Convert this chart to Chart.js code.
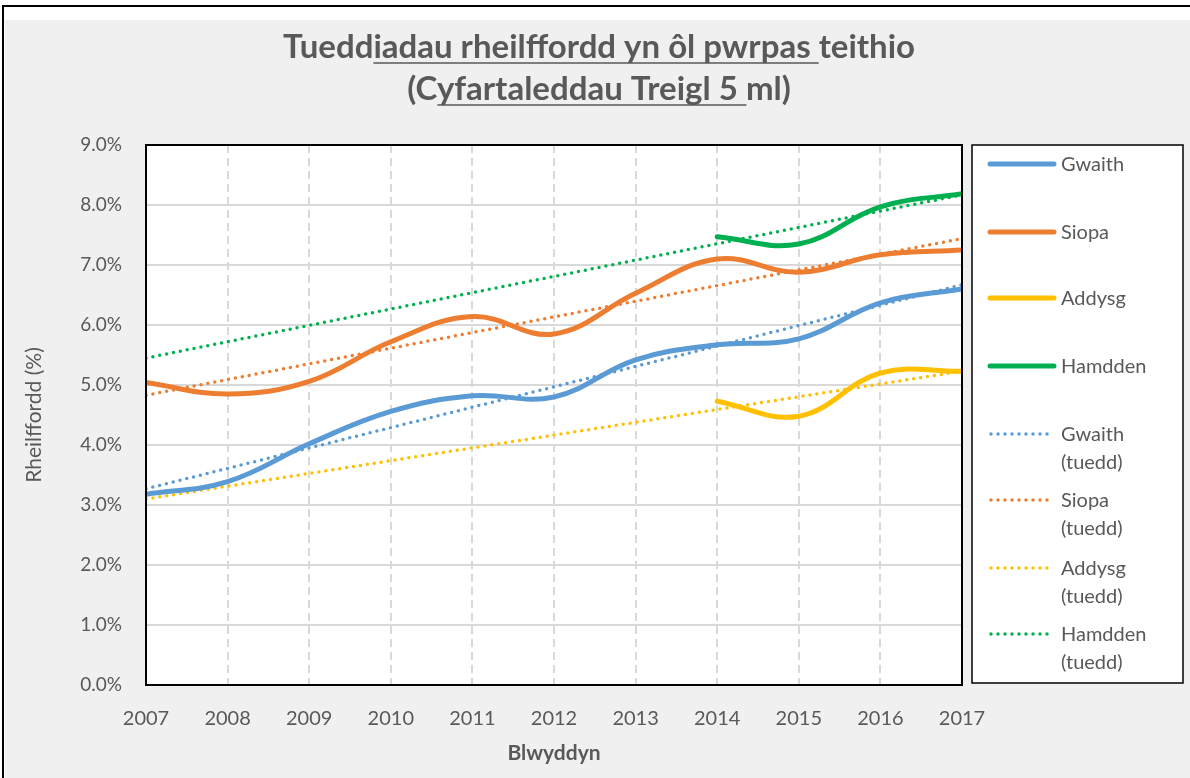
<!DOCTYPE html>
<html>
<head>
<meta charset="utf-8">
<script src="https://cdn.jsdelivr.net/npm/chart.js@4.4.1/dist/chart.umd.min.js"></script>
<style>
  html, body { margin: 0; padding: 0; background: #ffffff; }
  #wrap { width: 1190px; height: 778px; }
</style>
</head>
<body>
<div id="wrap"><canvas id="rail-chart" width="1190" height="778"></canvas></div>
<script>
const years = [2007, 2008, 2009, 2010, 2011, 2012, 2013, 2014, 2015, 2016, 2017];
const gwaith = [3.18, 3.39, 4.02, 4.56, 4.82, 4.80, 5.42, 5.67, 5.77, 6.37, 6.60];
const siopa = [5.04, 4.85, 5.06, 5.72, 6.14, 5.85, 6.53, 7.10, 6.88, 7.17, 7.25];
const addysg = [null, null, null, null, null, null, null, 4.73, 4.48, 5.20, 5.23];
const hamdden = [null, null, null, null, null, null, null, 7.47, 7.35, 7.97, 8.19];

// trend lines, read at both ends
const trendYears = [2007, 2017];
const gwaithTrend = [3.27, 6.67];
const siopaTrend = [4.83, 7.44];
const addysgTrend = [3.10, 5.23];
const hamddenTrend = [5.45, 8.17];

const seriesNames = ["Gwaith", "Siopa", "Addysg", "Hamdden"];
const yTicks = [0, 1, 2, 3, 4, 5, 6, 7, 8, 9];

const colors = ["#5B9BD5", "#ED7D31", "#FFC000", "#00B050"];
const textGray = "#595959";
const FONT = "Lato, 'Open Sans', sans-serif";

// turn x/y arrays into points, skipping blanks
const toPoints = (xs, ys) => {
  const pts = [];
  for (let i = 0; i < xs.length; i++) {
    if (ys[i] !== null) pts.push({ x: xs[i], y: ys[i] });
  }
  return pts;
};

const mainSeries = [gwaith, siopa, addysg, hamdden];
const trendSeries = [gwaithTrend, siopaTrend, addysgTrend, hamddenTrend];

const datasets = [];
mainSeries.forEach((vals, i) => {
  datasets.push({
    label: seriesNames[i],
    data: toPoints(years, vals),
    borderColor: colors[i],
    borderWidth: 5,
    tension: 0.4,
    pointRadius: 0,
    fill: false,
    borderCapStyle: "round",
  });
});
trendSeries.forEach((vals, i) => {
  datasets.push({
    label: seriesNames[i] + "\n(tuedd)",
    data: toPoints(trendYears, vals),
    borderColor: colors[i],
    borderWidth: 3.5,
    borderDash: [0, 7],
    borderCapStyle: "round",
    pointRadius: 0,
    fill: false,
    trend: true,
  });
});

// background, frame, title, plot border and legend
const decorPlugin = {
  id: "decor",
  beforeDraw(chart) {
    const ctx = chart.ctx;
    ctx.save();
    ctx.fillStyle = "#ffffff";
    ctx.fillRect(0, 0, chart.width, chart.height);
    ctx.fillStyle = "#f0f0f0";
    ctx.fillRect(5, 20, chart.width - 5, chart.height - 20);
    ctx.fillStyle = "#000000";
    ctx.fillRect(2, 5, chart.width - 2, 2);
    ctx.fillRect(2, 5, 2, chart.height - 5);
    const a = chart.chartArea;
    ctx.fillStyle = "#ffffff";
    ctx.fillRect(a.left, a.top, a.right - a.left, a.bottom - a.top);
    ctx.restore();
  },
  afterDraw(chart) {
    const ctx = chart.ctx;
    const a = chart.chartArea;
    ctx.save();
    ctx.strokeStyle = "#000000";
    ctx.lineWidth = 2;
    ctx.strokeRect(a.left, a.top, a.right - a.left, a.bottom - a.top);

    // title with its odd partial underline
    ctx.fillStyle = textGray;
    ctx.strokeStyle = textGray;
    ctx.font = "bold 33px " + FONT;
    ctx.textBaseline = "alphabetic";
    const titleLines = [
      ["Tuedd", "iadau rheilffordd yn ôl pwrpas ", "teithio"],
      ["(C", "yfartaleddau Treigl 5 ", "ml)"],
    ];
    const baselines = [58, 100];
    titleLines.forEach((parts, i) => {
      const full = parts.join("");
      const w = ctx.measureText(full).width;
      const x0 = chart.width / 2 + 4 - w / 2;
      ctx.textAlign = "left";
      ctx.fillText(full, x0, baselines[i]);
      const u0 = x0 + ctx.measureText(parts[0]).width;
      const u1 = u0 + ctx.measureText(parts[1]).width;
      ctx.lineWidth = 1.5;
      ctx.beginPath();
      ctx.moveTo(u0, baselines[i] + 5);
      ctx.lineTo(u1, baselines[i] + 5);
      ctx.stroke();
    });

    // legend box
    const lx = 972, ly = 145, lw = 211, lh = 538;
    ctx.fillStyle = "#ffffff";
    ctx.fillRect(lx, ly, lw, lh);
    ctx.strokeStyle = "#000000";
    ctx.lineWidth = 1.5;
    ctx.strokeRect(lx, ly, lw, lh);
    const rowY = [164, 232, 298, 366, 434, 500, 568, 634];
    ctx.font = "20px " + FONT;
    ctx.textAlign = "left";
    ctx.textBaseline = "middle";
    chart.data.datasets.forEach((ds, i) => {
      const y = rowY[i];
      ctx.strokeStyle = ds.borderColor;
      ctx.lineWidth = ds.borderWidth;
      ctx.lineCap = "round";
      ctx.setLineDash(ds.borderDash || []);
      ctx.beginPath();
      ctx.moveTo(ds.trend ? 991 : 990, y);
      ctx.lineTo(1054, y);
      ctx.stroke();
      ctx.setLineDash([]);
      ctx.fillStyle = textGray;
      ds.label.split("\n").forEach((t, k) => {
        ctx.fillText(t, 1061, y + 1 + k * 28);
      });
    });
    ctx.restore();
  },
};

const options = {
  responsive: false,
  animation: false,
  layout: {
    padding: { top: 145, left: 0, right: 228, bottom: 0 },
  },
  scales: {
    x: {
      type: "linear",
      min: 2007,
      max: 2017,
      afterFit: (scale) => {
        scale.height = 93;
      },
      ticks: {
        stepSize: 1,
        padding: 22,
        color: textGray,
        font: { family: FONT, size: 20 },
        callback: (v) => String(v),
      },
      grid: {
        color: "#d9d9d9",
        lineWidth: 2,
        drawTicks: false,
      },
      border: { display: false, dash: [8, 5] },
      title: {
        display: true,
        text: "Blwyddyn",
        color: textGray,
        font: { family: FONT, size: 21, weight: "bold" },
        padding: { top: 4, bottom: 12 },
      },
    },
    y: {
      min: 0,
      max: 9,
      afterFit: (scale) => {
        scale.width = 146;
      },
      afterBuildTicks: (scale) => {
        scale.ticks = yTicks.map((v) => ({ value: v }));
      },
      ticks: {
        padding: 24,
        color: textGray,
        font: { family: FONT, size: 19 },
        callback: (v) => v.toFixed(1) + "%",
      },
      grid: {
        color: "#d9d9d9",
        lineWidth: 2,
        drawTicks: false,
      },
      border: { display: false },
      title: {
        display: true,
        text: "Rheilffordd (%)",
        color: textGray,
        font: { family: FONT, size: 21 },
        padding: { top: 22, bottom: 0 },
      },
    },
  },
  plugins: {
    legend: { display: false },
    title: { display: false },
    tooltip: { enabled: false },
  },
};

const ctx = document.getElementById("rail-chart").getContext("2d");
const railChart = new Chart(ctx, {
  type: "line",
  data: { datasets: datasets },
  options: options,
  plugins: [decorPlugin],
});
</script>
</body>
</html>
